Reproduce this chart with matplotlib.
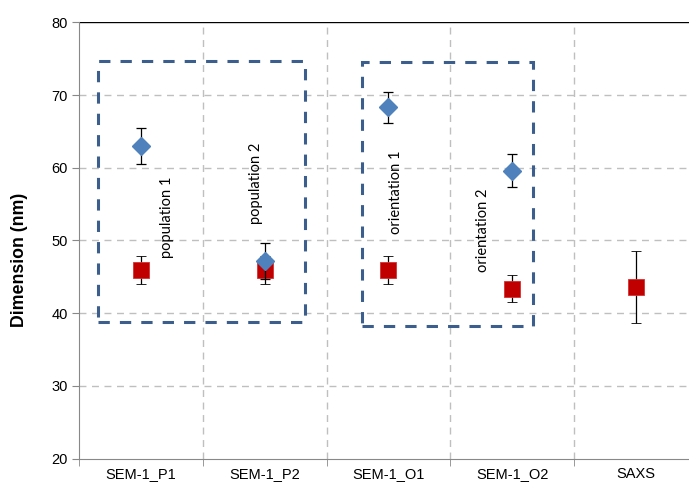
import matplotlib
matplotlib.use('Agg')
import matplotlib.pyplot as plt
from matplotlib.patches import Rectangle

# data
categories = ['SEM-1_P1', 'SEM-1_P2', 'SEM-1_O1', 'SEM-1_O2', 'SAXS']

# blue diamonds (no SAXS value)
blue_x = [0, 1, 2, 3]
blue_val = [63.0, 47.2, 68.3, 59.6]
blue_err = [2.5, 2.5, 2.1, 2.3]

# red squares
red_x = [0, 1, 2, 3, 4]
red_val = [45.9, 45.9, 45.9, 43.4, 43.6]
red_err = [1.9, 1.9, 1.9, 1.9, 4.9]

# dashed group boxes: (x0, x1, y0, y1)
boxes = [(-0.347, 1.323, 38.8, 74.7), (1.79, 3.17, 38.2, 74.5)]
group_labels = ['population 1', 'population 2', 'orientation 1', 'orientation 2']
group_label_x = [0.21, 0.93, 2.065, 2.765]
group_label_y = [53.2, 57.9, 56.6, 51.4]


def main():
    plt.rcParams['font.family'] = ['Liberation Sans', 'DejaVu Sans']
    fig = plt.figure(figsize=(6.89, 4.84), dpi=100)
    ax = fig.add_axes([0.1147, 0.0523, 0.898, 0.9016])

    grid_kw = dict(color='#BFBFBF', lw=1.0, linestyle=(0, (5, 4)), zorder=0)
    for y in range(30, 80, 10):
        ax.axhline(y, **grid_kw)
    for i in range(len(categories)):
        ax.axvline(i + 0.5, **grid_kw)
    ax.axhline(80, color='black', lw=1.0, zorder=1)

    for x0, x1, y0, y1 in boxes:
        ax.add_patch(Rectangle((x0, y0), x1 - x0, y1 - y0, fill=False,
                               edgecolor='#3B5E8C', lw=2.2,
                               linestyle=(0, (3.7, 3.3)), zorder=2))

    ax.errorbar(red_x, red_val, yerr=red_err, fmt='s', ms=12,
                color='#C00000', mec='#D83030', mew=0.6,
                ecolor='black', elinewidth=0.9, capsize=3.5, capthick=0.9, zorder=3)
    ax.errorbar(blue_x, blue_val, yerr=blue_err, fmt='D', ms=9,
                color='#4F81BD', mec='#4F81BD',
                ecolor='black', elinewidth=0.9, capsize=3.5, capthick=0.9, zorder=4)

    for text, x, y in zip(group_labels, group_label_x, group_label_y):
        ax.text(x, y, text, rotation=90, ha='center', va='center',
                fontsize=10.5, family=['Lato', 'DejaVu Sans'], zorder=5)

    ax.set_xlim(-0.5, 4.5)
    ax.set_ylim(20, 80)
    ax.set_yticks(range(20, 81, 10))
    ax.set_xticks(range(len(categories)))
    ax.set_xticklabels(categories)
    ax.set_xticks([i + 0.5 for i in range(-1, len(categories))], minor=True)
    ax.tick_params(axis='x', which='major', length=0, pad=6, labelsize=10.5)
    ax.tick_params(axis='x', which='minor', length=5, color='#888888')
    ax.tick_params(axis='y', length=5, color='#888888', labelsize=10.5, pad=3)

    for side in ['left', 'bottom']:
        ax.spines[side].set_color('#888888')
    ax.spines['top'].set_visible(False)
    ax.spines['right'].set_visible(False)

    # axis title sits a bit below the middle of the axis in the original
    fig.text(20 / 689, 1 - 260 / 484, 'Dimension (nm)', rotation=90,
             ha='center', va='center', fontsize=12.8, fontweight='bold')

    fig.savefig('out.png', dpi=100)


if __name__ == '__main__':
    main()
